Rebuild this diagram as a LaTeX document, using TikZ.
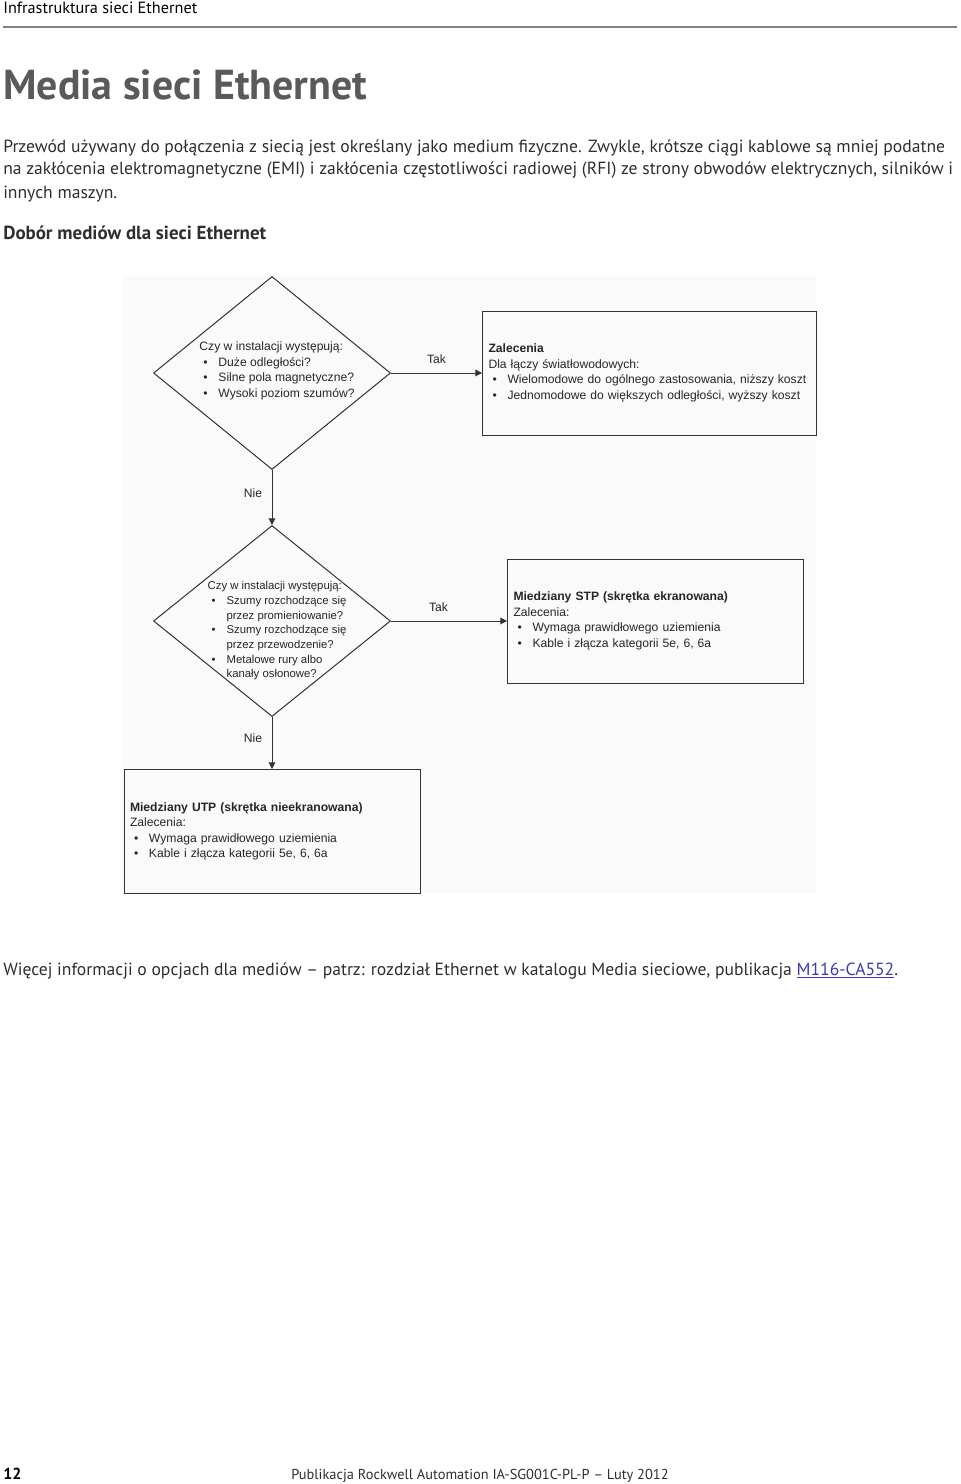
\documentclass[tikz,border=0pt]{standalone}
\usepackage{fontspec}
\setmainfont{PT Sans}
\newfontfamily\diagfont{Liberation Sans}
\usetikzlibrary{shapes.geometric,arrows.meta,positioning}
\definecolor{linkblue}{HTML}{3B3BB0}
\definecolor{titlegray}{HTML}{5A5A5A}
\definecolor{textgray}{HTML}{2E2E2E}
\definecolor{linegray}{HTML}{333333}
\newcommand{\itm}{\hspace*{3pt}\makebox[11.25pt][l]{\textbullet}}
\newcommand{\cont}{\hspace*{14.25pt}}

\begin{document}
\begin{tikzpicture}[
    x=0.75pt, y=-0.75pt,
    pagetext/.style={anchor=base west, inner sep=0pt, text=textgray, font=\fontsize{13.2}{15}\selectfont},
    decision/.style={diamond, draw=linegray, line width=0.75pt, inner sep=0pt, minimum width=177.75pt, minimum height=144.75pt},
    qtext/.style={inner sep=0pt, align=left, text=black!85, font=\diagfont\fontsize{9.1}{11.6}\selectfont},
    box/.style={rectangle, draw=linegray, line width=0.75pt, inner xsep=4.5pt, inner ysep=0pt, minimum height=93pt, align=left, text=black!85, font=\diagfont\fontsize{9.1}{11.6}\selectfont},
    arrow/.style={-{Triangle[length=5pt,width=5pt]}, draw=linegray, line width=0.75pt},
    lbl/.style={inner sep=0pt, text=black!85, font=\diagfont\fontsize{9.1}{10}\selectfont}
]
\useasboundingbox (0,0) rectangle (960,1484);

% Page head
\node[pagetext, text=black, font=\fontsize{12.2}{14}\selectfont] (head) at (3,14) {Infrastruktura sieci Ethernet};
\draw[gray, line width=1.1pt] (3,27) -- (957,27);
\node[pagetext, text=titlegray, font=\bfseries\fontsize{31.4}{36}\selectfont] (title) at (3,100) {Media sieci Ethernet};

% Intro text
\node[pagetext] (par1) at (3,152) {Przewód używany do połączenia z siecią jest określany jako medium fizyczne. Zwykle, krótsze ciągi kablowe są mniej podatne};
\node[pagetext] (par2) at (3,175) {na zakłócenia elektromagnetyczne (EMI) i zakłócenia częstotliwości radiowej (RFI) ze strony obwodów elektrycznych, silników i};
\node[pagetext] (par3) at (3,198) {innych maszyn.};
\node[pagetext, font=\bfseries\fontsize{14.2}{16}\selectfont] (sub) at (3,239) {Dobór mediów dla sieci Ethernet};

% Diagram background
\fill[black!2] (122,276) rectangle (816,893);

% Flow
\node[decision] (q1) at (272,373) {};
\node[qtext] (q1text) at ([shift={(5,-2)}]q1.center) {Czy w instalacji występują:\\\itm Duże odległości?\\\itm Silne pola magnetyczne?\\\itm Wysoki poziom szumów?};
\node[box, right=68.25pt of q1, text width=241.5pt] (fibre) {\textbf{Zalecenia}\\Dla łączy światłowodowych:\\\itm Wielomodowe do ogólnego zastosowania, niższy koszt\\\itm Jednomodowe do większych odległości, wyższy koszt};
\node[decision, below=41.25pt of q1, minimum height=143.25pt] (q2) {};
\node[qtext, font=\diagfont\fontsize{8.5}{11}\selectfont] (q2text) at ([shift={(5,10)}]q2.center) {Czy w instalacji występują:\\\itm Szumy rozchodzące się\\\cont przez promieniowanie?\\\itm Szumy rozchodzące się\\\cont przez przewodzenie?\\\itm Metalowe rury albo\\\cont kanały osłonowe?};
\node[box, right=87pt of q2, text width=213pt] (stp) {\textbf{Miedziany STP (skrętka ekranowana)}\\Zalecenia:\\\itm Wymaga prawidłowego uziemienia\\\itm Kable i złącza kategorii 5e, 6, 6a};
\node[box, below=39pt of q2, text width=213pt] (utp) {\textbf{Miedziany UTP (skrętka nieekranowana)}\\Zalecenia:\\\itm Wymaga prawidłowego uziemienia\\\itm Kable i złącza kategorii 5e, 6, 6a};

% Arrows
\draw[arrow] (q1.east) -- node[lbl, above=7pt] (tak1) {Tak} (fibre.west);
\draw[arrow] (q1.south) -- node[lbl, left=7pt, pos=0.42] (nie1) {Nie} (q2.north);
\draw[arrow] (q2.east) -- node[lbl, above=7pt, pos=0.41] (tak2) {Tak} (stp.west);
\draw[arrow] (q2.south) -- node[lbl, left=7pt, pos=0.4] (nie2) {Nie} (utp.north);

% Closing note and foot
\node[pagetext] (note) at (3,975) {Więcej informacji o opcjach dla mediów -- patrz: rozdział Ethernet w katalogu Media sieciowe, publikacja \textcolor{linkblue}{\underline{M116-CA552}}.};
\node[pagetext, text=black, font=\bfseries\fontsize{12}{14}\selectfont] (page) at (3,1479) {12};
\node[inner sep=0pt, anchor=base, text=textgray, font=\fontsize{10.8}{13}\selectfont] (pub) at (480,1479) {Publikacja Rockwell Automation IA-SG001C-PL-P -- Luty 2012};
\end{tikzpicture}
\end{document}
